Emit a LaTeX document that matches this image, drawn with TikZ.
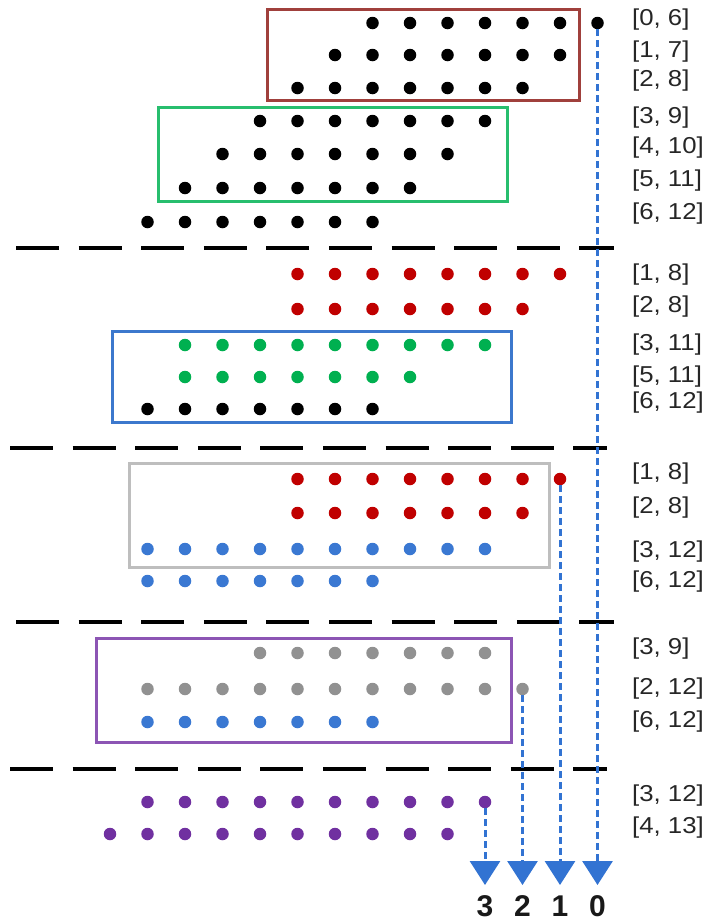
\documentclass[tikz,border=0pt]{standalone}
\usepackage{fontspec}
\setmainfont{Liberation Sans}
\usetikzlibrary{arrows.meta}
\definecolor{cred}{RGB}{192,0,0}
\definecolor{cgreen}{RGB}{0,176,80}
\definecolor{cblue}{RGB}{58,120,210}
\definecolor{cgray}{RGB}{145,145,145}
\definecolor{cpurple}{RGB}{112,48,160}
\definecolor{bred}{RGB}{160,64,60}
\definecolor{bgreen}{RGB}{40,190,110}
\definecolor{bblue}{RGB}{60,120,205}
\definecolor{bgray}{RGB}{190,190,190}
\definecolor{bpurple}{RGB}{140,85,180}
\definecolor{arrblue}{RGB}{50,115,210}
\newcommand\myrow[5]{%
  \foreach \k in {#3,...,#4}{\node[dot=#5] (#1-\k) at ({147.5+37.5*\k},#2) {};}}
\begin{document}
\begin{tikzpicture}[x=1pt,y=-1pt,
  dot/.style={circle,inner sep=0pt,minimum size=12.5pt,fill=#1},
  grpbox/.style={draw=#1,line width=3pt},
  sepA/.style={line width=3.5pt,dash pattern=on 43pt off 19.6pt},
  lbl/.style={anchor=west,font=\fontsize{23}{23}\selectfont,text=black!85,inner sep=0pt},
  flow/.style={draw=arrblue,line width=3pt,dash pattern=on 7pt off 4pt,-{Triangle[width=30pt,length=24pt,fill=arrblue]}},
  idx/.style={font=\fontsize{30}{30}\selectfont\bfseries,inner sep=0pt,text=black!90}]
\useasboundingbox (0,0) rectangle (710,924);
% separators
\draw[sepA] (16,248) -- (614,248);
\draw[sepA] (10,448) -- (607,448);
\draw[sepA] (16,622) -- (614,622);
\draw[sepA] (10,769) -- (607,769);
% boxes
\draw[grpbox=bred] (267,9) rectangle (579,100);
\draw[grpbox=bgreen] (158,107) rectangle (507,201);
\draw[grpbox=bblue] (112,331) rectangle (511,422);
\draw[grpbox=bgray] (129,463) rectangle (549,567);
\draw[grpbox=bpurple] (96,638) rectangle (511,742);
% section 1
\myrow{aa}{23}{6}{12}{black}
\myrow{ab}{55}{5}{11}{black}
\myrow{ac}{88}{4}{10}{black}
\myrow{ad}{121}{3}{9}{black}
\myrow{ae}{154}{2}{8}{black}
\myrow{af}{188}{1}{7}{black}
\myrow{ag}{222}{0}{6}{black}
% section 2
\myrow{ba}{274}{4}{11}{cred}
\myrow{bb}{309}{4}{10}{cred}
\myrow{bc}{345}{1}{9}{cgreen}
\myrow{bd}{377}{1}{7}{cgreen}
\myrow{be}{409}{0}{6}{black}
% section 3
\myrow{ca}{479}{4}{11}{cred}
\myrow{cb}{513}{4}{10}{cred}
\myrow{cc}{549}{0}{9}{cblue}
\myrow{cd}{581}{0}{6}{cblue}
% section 4
\myrow{da}{653}{3}{9}{cgray}
\myrow{db}{689}{0}{10}{cgray}
\myrow{dc}{722}{0}{6}{cblue}
% section 5
\myrow{ea}{802}{0}{9}{cpurple}
\myrow{eb}{834}{-1}{8}{cpurple}
% labels
\foreach \y/\t [count=\i] in {20/{[0, 6]},52/{[1, 7]},81/{[2, 8]},118/{[3, 9]},148/{[4, 10]},181/{[5, 11]},214/{[6, 12]},
  275/{[1, 8]},307/{[2, 8]},345/{[3, 11]},377/{[5, 11]},403/{[6, 12]},
  474/{[1, 8]},508/{[2, 8]},552/{[3, 12]},582/{[6, 12]},
  649/{[3, 9]},689/{[2, 12]},722/{[6, 12]},
  796/{[3, 12]},828/{[4, 13]}}
  \node[lbl] (lab\i) at (632,\y) {\scalebox{1.12}[1]{\t}};
% arrow ends and index labels
\coordinate (yend) at (0,885);
\coordinate (ylab) at (0,906);
\coordinate (e0) at (aa-12 |- yend);
\coordinate (e1) at (ca-11 |- yend);
\coordinate (e2) at (db-10 |- yend);
\coordinate (e3) at (ea-9 |- yend);
\node[idx] (n0) at (aa-12 |- ylab) {0};
\node[idx] (n1) at (ca-11 |- ylab) {1};
\node[idx] (n2) at (db-10 |- ylab) {2};
\node[idx] (n3) at (ea-9 |- ylab) {3};
% flows
\draw[flow] (aa-12.south) -- (e0);
\draw[flow] (ca-11.south) -- (e1);
\draw[flow] (db-10.south) -- (e2);
\draw[flow] (ea-9.south) -- (e3);
\end{tikzpicture}
\end{document}
